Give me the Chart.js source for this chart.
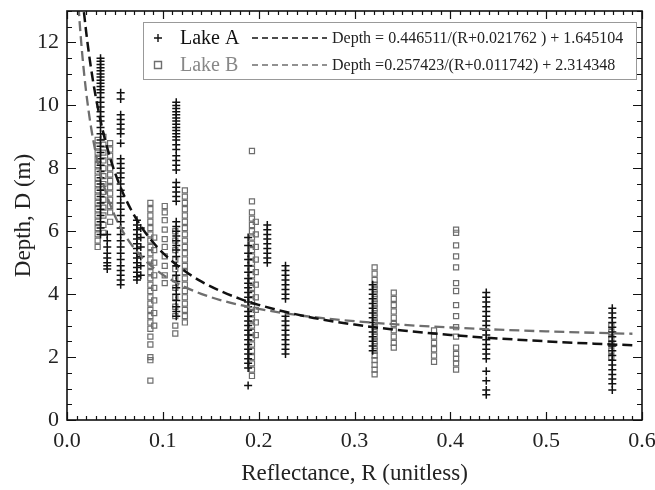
<!DOCTYPE html>
<html>
<head>
<meta charset="utf-8">
<script src="https://cdn.jsdelivr.net/npm/chart.js@4.4.1/dist/chart.umd.min.js"></script>
<style>
  html, body { margin: 0; padding: 0; background: #fff; }
</style>
</head>
<body>
<canvas id="myChart" width="655" height="490"></canvas>
<script>
// series names and fitted equations (as printed in the legend)
const seriesNames = ['Lake A', 'Lake B'];
const fitLabels = [
  'Depth = 0.446511/(R+0.021762 ) + 1.645104',
  'Depth =0.257423/(R+0.011742) + 2.314348'
];

// Lake A: reflectance of each sampling column and the depths measured there
const lakeAR = [0.035, 0.042, 0.056, 0.073, 0.077, 0.114, 0.189, 0.209, 0.228, 0.319, 0.4375, 0.569];
const lakeADepths = [
  [11.5, 11.4, 11.3, 11.2, 11.1, 11.0, 10.9, 10.8, 10.7, 10.6, 10.5, 10.4, 10.25, 10.1, 9.95, 9.8, 9.65, 9.5, 9.3, 9.1, 8.9, 8.7, 8.5, 8.3, 8.1, 7.9, 7.7, 7.5, 7.3, 7.1, 6.9, 6.7, 6.5, 6.3, 6.1, 5.9],
  [5.9, 5.7, 5.5, 5.3, 5.15, 5.0, 4.9, 4.8],
  [10.4, 10.2, 9.7, 9.55, 9.4, 9.25, 9.1, 8.8, 8.3, 8.15, 8.0, 7.85, 7.7, 7.5, 7.3, 7.1, 6.9, 6.7, 6.5, 6.3, 6.1, 5.9, 5.7, 5.5, 5.3, 5.1, 4.9, 4.75, 4.6, 4.45, 4.3],
  [6.35, 6.2, 6.05, 5.9, 5.75, 5.6, 5.45, 5.3, 5.15, 5.0, 4.85, 4.7, 4.55, 4.45],
  [6.1, 5.8, 5.5, 5.2, 4.9, 4.6],
  [10.1, 10.0, 9.9, 9.8, 9.7, 9.6, 9.5, 9.4, 9.3, 9.2, 9.1, 9.0, 8.9, 8.75, 8.6, 8.4, 8.25, 8.1, 7.95, 7.55, 7.4, 7.25, 7.1, 6.95, 6.3, 6.15, 6.0, 5.85, 5.7, 5.55, 5.4, 5.2, 4.9, 4.6, 4.4, 4.2, 4.0, 3.8, 3.6, 3.45, 3.3],
  [5.8, 5.55, 5.3, 5.1, 4.9, 4.7, 4.5, 4.35, 4.2, 4.05, 3.9, 3.75, 3.6, 3.45, 3.3, 3.15, 3.0, 2.85, 2.7, 2.55, 2.4, 2.25, 2.1, 1.95, 1.8, 1.65, 1.1],
  [6.2, 6.05, 5.9, 5.75, 5.6, 5.45, 5.3, 5.15, 5.0],
  [4.9, 4.75, 4.6, 4.45, 4.3, 4.15, 4.0, 3.85, 3.3, 3.15, 3.0, 2.85, 2.7, 2.55, 2.4, 2.25, 2.1],
  [4.3, 4.15, 4.0, 3.85, 3.7, 3.55, 3.4, 3.25, 3.1, 2.95, 2.8, 2.65, 2.5, 2.35, 2.2],
  [4.05, 3.9, 3.75, 3.6, 3.45, 3.3, 3.15, 3.0, 2.85, 2.7, 2.55, 2.4, 2.25, 2.1, 1.95, 1.55, 1.25, 0.95, 0.8],
  [3.55, 3.4, 3.25, 3.1, 2.95, 2.8, 2.65, 2.5, 2.35, 2.2, 2.05, 1.9, 1.75, 1.6, 1.45, 1.3, 1.15, 0.95]
];

// Lake B: reflectance of each sampling column and the depths measured there
const lakeBR = [0.032, 0.038, 0.045, 0.087, 0.091, 0.102, 0.113, 0.123, 0.193, 0.197, 0.321, 0.341, 0.383, 0.406, 0.568];
const lakeBDepths = [
  [8.9, 8.7, 8.5, 8.3, 8.1, 7.9, 7.7, 7.5, 7.3, 7.1, 6.9, 6.7, 6.5, 6.3, 6.1, 5.9, 5.7, 5.5],
  [9.0, 8.75, 8.5, 8.25, 8.0, 7.75, 7.5, 7.25, 7.0, 6.75, 6.5, 6.2, 5.95],
  [8.8, 8.6, 8.4, 8.2, 8.0, 7.8, 7.6, 7.4, 7.2, 7.0, 6.8, 6.6, 6.3],
  [6.9, 6.7, 6.5, 6.3, 6.1, 5.9, 5.7, 5.5, 5.3, 5.1, 4.9, 4.7, 4.5, 4.3, 4.1, 3.9, 3.7, 3.5, 3.3, 3.1, 2.9, 2.65, 2.4, 2.0, 1.9, 1.25],
  [5.8, 5.4, 5.0, 4.6, 4.2, 3.8, 3.4, 3.0],
  [6.8, 6.6, 6.35, 6.05, 5.75, 5.5, 5.2, 4.9, 4.6, 4.35],
  [6.0, 5.7, 5.4, 5.1, 4.8, 4.5, 4.2, 3.9, 3.6, 3.3, 3.0, 2.75],
  [7.3, 7.1, 6.9, 6.7, 6.5, 6.3, 6.1, 5.9, 5.7, 5.5, 5.3, 5.1, 4.9, 4.7, 4.5, 4.3, 4.1, 3.9, 3.7, 3.5, 3.3, 3.1],
  [8.55, 6.95, 6.6, 6.4, 6.2, 6.0, 5.8, 5.6, 5.4, 5.2, 5.0, 4.8, 4.6, 4.4, 4.2, 4.0, 3.8, 3.6, 3.4, 3.2, 3.0, 2.8, 2.6, 2.4, 2.2, 2.0, 1.8, 1.6, 1.4],
  [6.3, 5.9, 5.5, 5.1, 4.7, 4.3, 3.9, 3.5, 3.1, 2.7],
  [4.85, 4.65, 4.45, 4.3, 4.15, 4.0, 3.85, 3.7, 3.55, 3.4, 3.25, 3.1, 2.95, 2.8, 2.65, 2.5, 2.35, 2.2, 2.05, 1.9, 1.75, 1.6, 1.45],
  [4.05, 3.85, 3.65, 3.45, 3.25, 3.05, 2.85, 2.65, 2.45, 2.3],
  [2.85, 2.65, 2.45, 2.25, 2.05, 1.85],
  [6.05, 5.95, 5.55, 5.2, 4.85, 4.35, 4.1, 3.65, 3.3, 2.95, 2.65, 2.3, 2.1, 1.95, 1.8, 1.6],
  [3.0, 2.8, 2.6, 2.4, 2.2, 2.0]
];

// fitted curves, read at these reflectances
const fitR = [0.012, 0.013, 0.014, 0.016, 0.018, 0.02, 0.022, 0.025, 0.03, 0.035, 0.04, 0.045, 0.05, 0.06, 0.07, 0.08, 0.09, 0.1, 0.12, 0.14, 0.16, 0.18, 0.2, 0.25, 0.3, 0.35, 0.4, 0.45, 0.5, 0.55, 0.59];
const fitA = [14.87, 14.49, 14.131, 13.47, 12.875, 12.337, 11.848, 11.194, 10.271, 9.512, 8.875, 8.333, 7.867, 7.106, 6.511, 6.033, 5.64, 5.312, 4.795, 4.405, 4.102, 3.858, 3.659, 3.288, 3.033, 2.846, 2.704, 2.592, 2.501, 2.426, 2.375];
const fitB = [13.157, 12.719, 12.314, 11.594, 10.97, 10.424, 9.944, 9.321, 8.481, 7.822, 7.289, 6.851, 6.484, 5.903, 5.464, 5.12, 4.844, 4.618, 4.268, 4.011, 3.813, 3.657, 3.53, 3.298, 3.14, 3.026, 2.94, 2.872, 2.817, 2.773, 2.742];

// axis ticks
const xTicks = [0, 0.1, 0.2, 0.3, 0.4, 0.5, 0.6];
const yTicks = [0, 2, 4, 6, 8, 10, 12];

const colA = '#111111';
const colB = '#6e6e6e';
const serif = '"Liberation Serif", "DejaVu Serif", serif';

const toPoints = (rs, depths) => rs.flatMap((r, i) => depths[i].map(d => ({ x: r, y: d })));
const toLine = (ys) => fitR.map((r, i) => ({ x: r, y: ys[i] }));

// inward ticks on all four sides plus the frame
const frameTicks = {
  id: 'frameTicks',
  afterDraw(chart) {
    const { ctx, chartArea: a, scales: { x, y } } = chart;
    ctx.save();
    ctx.strokeStyle = '#111';
    ctx.lineWidth = 1.2;
    ctx.beginPath();
    for (let i = 0; i <= 60; i++) {
      const px = Math.round(x.getPixelForValue(i / 100)) + 0.5;
      const len = i % 10 === 0 ? 8 : 4;
      ctx.moveTo(px, a.bottom); ctx.lineTo(px, a.bottom - len);
      ctx.moveTo(px, a.top); ctx.lineTo(px, a.top + len);
    }
    for (let i = 0; i <= 26; i++) {
      const py = Math.round(y.getPixelForValue(i / 2)) + 0.5;
      const len = i % 4 === 0 ? 9 : 5;
      ctx.moveTo(a.left, py); ctx.lineTo(a.left + len, py);
      ctx.moveTo(a.right, py); ctx.lineTo(a.right - len, py);
    }
    ctx.stroke();
    ctx.lineWidth = 1.6;
    ctx.strokeRect(a.left, a.top, a.right - a.left, a.bottom - a.top);
    ctx.restore();
  }
};

// legend box: marker + name, dashed sample + fitted equation
const fitLegend = {
  id: 'fitLegend',
  afterDraw(chart) {
    const ctx = chart.ctx;
    const box = { l: 143, t: 22, r: 636, b: 79 };
    const rows = [38, 65];
    const cols = [colA, colB];
    const textCols = ['#111', '#888'];
    ctx.save();
    ctx.fillStyle = '#fff';
    ctx.fillRect(box.l, box.t, box.r - box.l, box.b - box.t);
    ctx.strokeStyle = '#999';
    ctx.lineWidth = 1;
    ctx.strokeRect(box.l + 0.5, box.t + 0.5, box.r - box.l, box.b - box.t);
    rows.forEach((yy, i) => {
      ctx.strokeStyle = cols[i];
      ctx.lineWidth = 1.4;
      ctx.setLineDash([]);
      ctx.beginPath();
      if (i === 0) {
        ctx.moveTo(154, yy); ctx.lineTo(162, yy);
        ctx.moveTo(158, yy - 4); ctx.lineTo(158, yy + 4);
      } else {
        ctx.rect(154.5, yy - 3.5, 7, 7);
      }
      ctx.stroke();
      ctx.fillStyle = textCols[i];
      ctx.font = '20px ' + serif;
      ctx.textBaseline = 'middle';
      ctx.fillText(seriesNames[i], 180, yy + 1);
      ctx.setLineDash([6, 4]);
      ctx.lineWidth = 1.5;
      ctx.beginPath();
      ctx.moveTo(252, yy); ctx.lineTo(327, yy);
      ctx.stroke();
      ctx.setLineDash([]);
      ctx.fillStyle = '#222';
      ctx.font = '16px ' + serif;
      ctx.fillText(fitLabels[i], 332, yy + 1);
    });
    ctx.restore();
  }
};

const ctx = document.getElementById('myChart').getContext('2d');
new Chart(ctx, {
  type: 'scatter',
  data: {
    datasets: [
      {
        label: seriesNames[0] + ' fit',
        data: toLine(fitA),
        showLine: true,
        borderColor: colA,
        borderWidth: 2.5,
        borderDash: [10, 5],
        pointRadius: 0,
        cubicInterpolationMode: 'monotone',
        order: 0
      },
      {
        label: seriesNames[1] + ' fit',
        data: toLine(fitB),
        showLine: true,
        borderColor: colB,
        borderWidth: 2.3,
        borderDash: [10, 5],
        pointRadius: 0,
        cubicInterpolationMode: 'monotone',
        order: 1
      },
      {
        label: seriesNames[0],
        data: toPoints(lakeAR, lakeADepths),
        pointStyle: 'cross',
        pointRadius: 4,
        borderColor: colA,
        borderWidth: 1.5,
        order: 2
      },
      {
        label: seriesNames[1],
        data: toPoints(lakeBR, lakeBDepths),
        pointStyle: 'rect',
        pointRadius: 3.6,
        borderColor: colB,
        backgroundColor: 'rgba(255,255,255,0)',
        borderWidth: 1.2,
        order: 3
      }
    ]
  },
  options: {
    responsive: false,
    animation: false,
    layout: { padding: { top: 11, right: 13, left: 0, bottom: 0 } },
    plugins: {
      legend: { display: false },
      tooltip: { enabled: false }
    },
    scales: {
      x: {
        type: 'linear',
        min: 0,
        max: 0.6,
        afterBuildTicks: s => { s.ticks = xTicks.map(v => ({ value: v })); },
        afterFit: s => { s.height = 70; s.paddingLeft = 0; s.paddingRight = 0; },
        grid: { display: false, drawTicks: false },
        border: { display: false },
        ticks: {
          color: '#222',
          padding: 8,
          font: { family: serif, size: 22 },
          callback: v => v.toFixed(1)
        },
        title: {
          display: true,
          text: 'Reflectance, R (unitless)',
          color: '#222',
          font: { family: serif, size: 23 },
          padding: { top: 0, bottom: 2 }
        }
      },
      y: {
        type: 'linear',
        min: 0,
        max: 13,
        afterBuildTicks: s => { s.ticks = yTicks.map(v => ({ value: v })); },
        afterFit: s => { s.width = 67; s.paddingTop = 0; s.paddingBottom = 0; },
        grid: { display: false, drawTicks: false },
        border: { display: false },
        ticks: {
          color: '#222',
          padding: 8,
          font: { family: serif, size: 22 }
        },
        title: {
          display: true,
          text: 'Depth, D (m)',
          color: '#222',
          font: { family: serif, size: 23 },
          padding: { top: 10, bottom: 0 }
        }
      }
    }
  },
  plugins: [frameTicks, fitLegend]
});
</script>
</body>
</html>
